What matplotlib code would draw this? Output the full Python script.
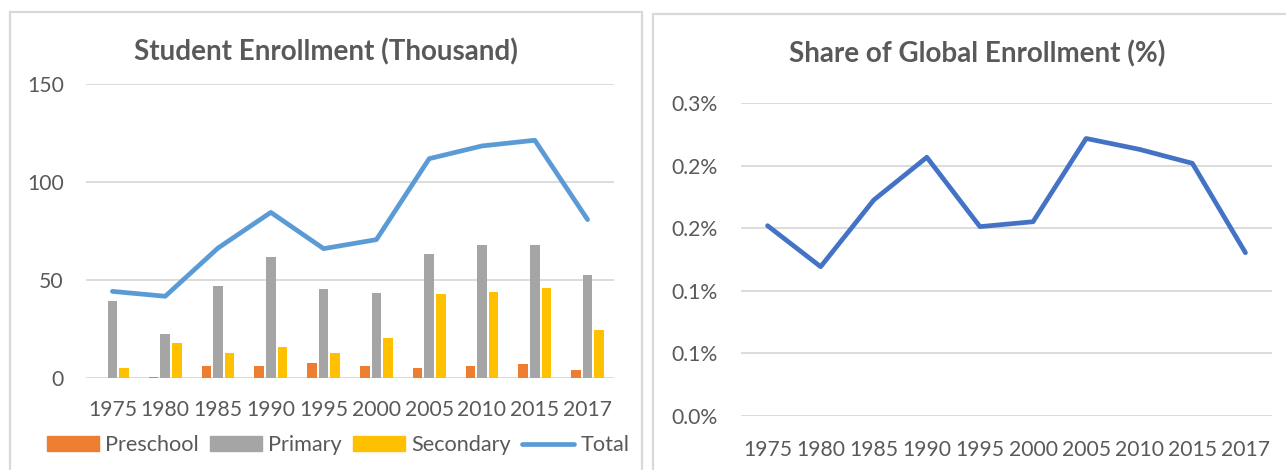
import matplotlib
matplotlib.use("Agg")
import matplotlib.pyplot as plt
from matplotlib.patches import Rectangle
from matplotlib.lines import Line2D
import numpy as np

years = ["1975", "1980", "1985", "1990", "1995", "2000", "2005", "2010", "2015", "2017"]
preschool = [0.0, 0.3, 6.1, 6.3, 7.5, 6.3, 4.9, 6.0, 7.3, 3.9]
primary = [39.1, 22.6, 46.8, 61.7, 45.4, 43.4, 63.5, 68.0, 67.9, 52.4]
secondary = [4.9, 17.7, 12.6, 15.8, 12.8, 20.6, 43.0, 43.7, 45.8, 24.3]
total = [44.2, 41.7, 66.3, 84.5, 66.0, 70.6, 111.9, 118.4, 121.3, 80.8]
share = [0.1824, 0.1431, 0.2070, 0.2480, 0.1815, 0.1862, 0.2660, 0.2556, 0.2422, 0.1565]
left_yticks = [0, 50, 100, 150]
right_yticks = [0.0, 0.06, 0.12, 0.18, 0.24, 0.30]

plt.rcParams['font.family'] = ['Lato', 'DejaVu Sans']
TXT = "#595959"
GRID = "#D9D9D9"
W, H = 1286, 470
fig = plt.figure(figsize=(W / 100, H / 100), dpi=100)

def fx(px):
    return px / W

def fy(py):
    return 1 - py / H

TICK_FS = 15.2
LEG_FS = 15.6
TITLE_FS = 20

# panel borders
fig.patches.append(Rectangle((fx(10), fy(480)), fx(642 - 10), fy(12) - fy(480),
                             transform=fig.transFigure, fill=False, ec=GRID, lw=1.6))
fig.patches.append(Rectangle((fx(653), fy(480)), fx(1300 - 653), fy(14) - fy(480),
                             transform=fig.transFigure, fill=False, ec=GRID, lw=1.6))

x = np.arange(len(years))

# left chart
ax1 = fig.add_axes([fx(86), fy(378), fx(614 - 86), fy(84) - fy(378)])
bw = 0.18
off = 0.22
ax1.bar(x - off, preschool, bw, color="#ED7D31", zorder=2, label="Preschool")
ax1.bar(x, primary, bw, color="#A5A5A5", zorder=2, label="Primary")
ax1.bar(x + off, secondary, bw, color="#FFC000", zorder=2, label="Secondary")
ax1.plot(x, total, color="#5B9BD5", lw=3.4, zorder=3, solid_joinstyle="round",
         solid_capstyle="round", label="Total")
ax1.set_xlim(-0.5, len(years) - 0.5)
ax1.set_ylim(0, 150)
ax1.set_yticks(left_yticks)
ax1.set_yticklabels([str(v) for v in left_yticks])
ax1.set_xticks(x)
ax1.set_xticklabels(years)
ax1.grid(axis="y", color=GRID, lw=1.3, zorder=0)
for s in ax1.spines.values():
    s.set_visible(False)
ax1.tick_params(axis="both", length=0, labelsize=TICK_FS, colors=TXT)
ax1.tick_params(axis="y", pad=16)
ax1.tick_params(axis="x", pad=16)
fig.text(fx(326), fy(52), "Student Enrollment (Thousand)", ha="center", va="center",
         fontsize=TITLE_FS, fontweight="bold", color=TXT)

handles = [Rectangle((0, 0), 1, 1, color="#ED7D31"),
           Rectangle((0, 0), 1, 1, color="#A5A5A5"),
           Rectangle((0, 0), 1, 1, color="#FFC000"),
           Line2D([0], [0], color="#5B9BD5", lw=3.4, solid_capstyle="round")]
leg = fig.legend(handles, ["Preschool", "Primary", "Secondary", "Total"], ncol=4,
                 loc="center", bbox_to_anchor=(fx(338), fy(445)), frameon=False,
                 fontsize=LEG_FS, handlelength=2.42, handleheight=0.65, handletextpad=0.28,
                 columnspacing=0.5, borderpad=0, borderaxespad=0)
for t in leg.get_texts():
    t.set_color(TXT)

# right chart
ax2 = fig.add_axes([fx(741), fy(416), fx(1272 - 741), fy(103) - fy(416)])
ax2.plot(x, share, color="#4472C4", lw=3.4, zorder=3, solid_joinstyle="round",
         solid_capstyle="round")
ax2.set_xlim(-0.5, len(years) - 0.5)
ax2.set_ylim(0, 0.30)
ax2.set_yticks(right_yticks)
ax2.set_yticklabels(["%.1f%%" % v for v in right_yticks])
ax2.set_xticks(x)
ax2.set_xticklabels(years)
ax2.grid(axis="y", color=GRID, lw=1.3, zorder=0)
for s in ax2.spines.values():
    s.set_visible(False)
ax2.tick_params(axis="both", length=0, labelsize=TICK_FS, colors=TXT)
ax2.tick_params(axis="y", pad=17)
ax2.tick_params(axis="x", pad=17)
fig.text(fx(977), fy(54), "Share of Global Enrollment (%)", ha="center", va="center",
         fontsize=TITLE_FS, fontweight="bold", color=TXT)

fig.savefig("out.png", dpi=100)
